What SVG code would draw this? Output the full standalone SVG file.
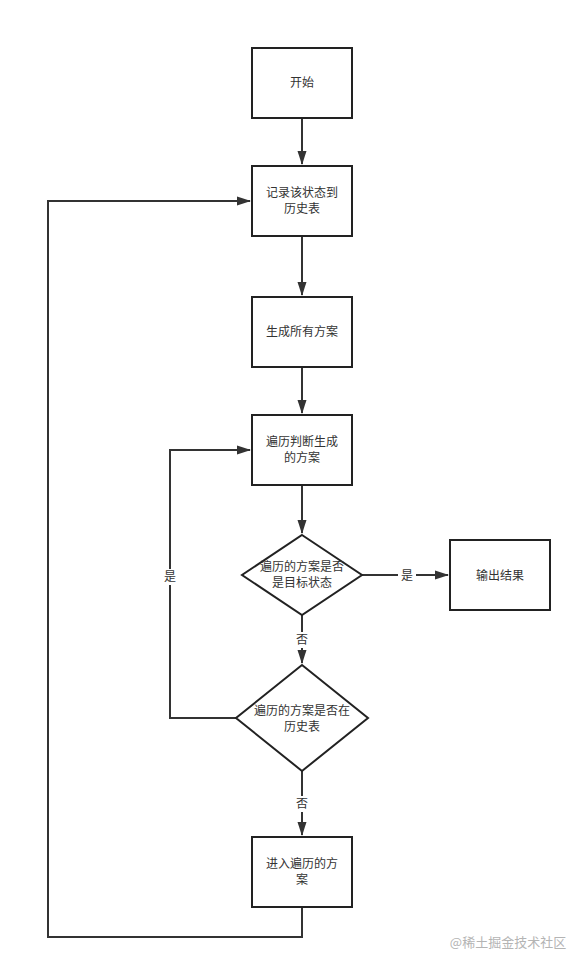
<svg xmlns="http://www.w3.org/2000/svg" width="582" height="969" viewBox="0 0 582 969">
<style>
.n{fill:#fff;stroke:#222;stroke-width:2}
.t{font-family:"Noto Sans CJK SC","Liberation Sans",sans-serif;font-size:12px;fill:#333;text-anchor:middle}
.c{fill:none;stroke:#333;stroke-width:2}
.lb{font-family:"Noto Sans CJK SC","Liberation Sans",sans-serif;font-size:12px;fill:#333;text-anchor:middle}
</style>
<defs>
<marker id="a" viewBox="0 0 14 10" refX="13" refY="5" markerWidth="14" markerHeight="10" orient="auto" markerUnits="userSpaceOnUse">
<path d="M0,0.5L14,5L0,9.5z" fill="#333"/>
</marker>
</defs>
<rect width="582" height="969" fill="#fff"/>
<g id="connectors">
<path class="c" d="M302,118V164" marker-end="url(#a)"/>
<path class="c" d="M302,236V295" marker-end="url(#a)"/>
<path class="c" d="M302,367V413" marker-end="url(#a)"/>
<path class="c" d="M302,485V533" marker-end="url(#a)"/>
<path class="c" d="M362,575H448" marker-end="url(#a)"/>
<path class="c" d="M302,615V663" marker-end="url(#a)"/>
<path class="c" d="M302,771V835" marker-end="url(#a)"/>
<path class="c" d="M236,718H170V450H250" marker-end="url(#a)"/>
<path class="c" d="M302,907V937H48V201H250" marker-end="url(#a)"/>
<rect x="398" y="567" width="18" height="16" fill="#fff"/>
<text class="lb" x="407" y="580">是</text>
<rect x="294" y="632" width="16" height="16" fill="#fff"/>
<text class="lb" x="302" y="644">否</text>
<rect x="294" y="796" width="16" height="16" fill="#fff"/>
<text class="lb" x="302" y="808">否</text>
<rect x="162" y="569" width="16" height="16" fill="#fff"/>
<text class="lb" x="170" y="581">是</text>
</g>
<g id="start"><rect class="n" x="252" y="48" width="100" height="70"/><text class="t" x="302" y="87">开始</text></g>
<g id="record"><rect class="n" x="252" y="166" width="100" height="70"/><text class="t" x="302" y="197">记录该状态到</text><text class="t" x="302" y="213">历史表</text></g>
<g id="generate"><rect class="n" x="252" y="297" width="100" height="70"/><text class="t" x="302" y="336">生成所有方案</text></g>
<g id="traverse"><rect class="n" x="252" y="415" width="100" height="70"/><text class="t" x="302" y="446">遍历判断生成</text><text class="t" x="302" y="462">的方案</text></g>
<g id="isgoal"><path class="n" d="M302,535L362,575L302,615L242,575z"/><text class="t" x="302" y="571">遍历的方案是否</text><text class="t" x="302" y="587">是目标状态</text></g>
<g id="output"><rect class="n" x="450" y="540" width="100" height="70"/><text class="t" x="500" y="580">输出结果</text></g>
<g id="inhistory"><path class="n" d="M302,665L368,718L302,771L236,718z"/><text class="t" x="302" y="715">遍历的方案是否在</text><text class="t" x="302" y="731">历史表</text></g>
<g id="enter"><rect class="n" x="252" y="837" width="100" height="70"/><text class="t" x="302" y="868">进入遍历的方</text><text class="t" x="302" y="884">案</text></g>
<text x="508" y="947" font-family="'Noto Sans CJK SC','Liberation Sans',sans-serif" font-size="13" fill="#b4b4b4" text-anchor="middle">@稀土掘金技术社区</text>
</svg>
